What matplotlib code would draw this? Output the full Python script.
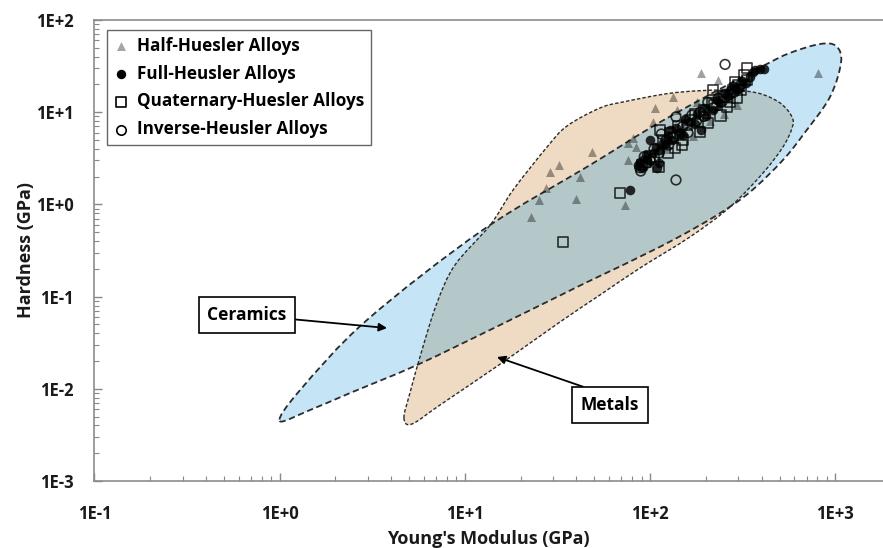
import numpy as np
import matplotlib.pyplot as plt
from matplotlib.path import Path
from matplotlib.patches import PathPatch
from matplotlib.ticker import LogLocator, FuncFormatter, NullFormatter

plt.rcParams['font.family'] = ['Open Sans', 'DejaVu Sans']
plt.rcParams['font.weight'] = 'bold'

# Young's modulus (GPa) and hardness (GPa) for each alloy family
half_E = [806, 189, 233, 133, 106, 104, 140, 179, 294, 48.6, 76, 81, 84, 76, 73.2,
          32.2, 28.8, 27.4, 41.8, 25.1, 39.8, 22.7, 170, 210, 250, 120, 95, 150, 200, 230, 275]
half_H = [26.6, 26.6, 22.3, 14.6, 11.1, 7.9, 10.6, 12.9, 12.0, 3.70, 4.6, 5.3, 4.2, 3.03, 0.985,
          2.67, 2.25, 1.51, 1.98, 1.12, 1.14, 0.73, 5.5, 8.0, 9.5, 4.0, 3.5, 7.0, 11.0, 16.0, 14.0]

full_E = [370, 390, 410, 360, 78, 100, 113, 88, 86, 91, 109, 112, 128, 138, 164, 189, 218,
          270, 300, 330, 150, 175, 240, 260, 200, 120, 95,
          96, 104, 118, 125, 145, 155, 180, 195, 230, 250, 285, 315, 345, 108, 132]
full_H = [28.5, 29.5, 29.5, 27, 1.43, 5.0, 3.9, 2.9, 2.65, 2.5, 2.5, 2.8, 6.4, 6.7, 7.8, 6.4, 10.6,
          17.4, 18.2, 20.7, 5.6, 7.5, 12.5, 15.0, 9.0, 4.5, 3.4,
          3.0, 3.6, 4.6, 5.5, 6.0, 8.5, 9.5, 11.0, 13.5, 16.0, 19.0, 22.0, 24.0, 4.2, 5.0]

quat_E = [34, 69, 334, 218, 287, 334, 111, 260, 205, 186, 150, 164, 136, 113, 223, 294, 310,
          95, 125, 175, 240, 270, 100, 90, 105, 118, 128, 142, 158, 195, 215, 250, 280, 300, 320, 148]
quat_H = [0.39, 1.33, 30, 17.4, 21, 22.3, 2.55, 11.4, 7.6, 6.1, 5.0, 8.2, 4.1, 6.4, 11.9, 14.2, 17.4,
          2.9, 3.6, 9.5, 9.2, 13.0, 3.3, 2.7, 3.1, 4.8, 5.9, 7.0, 7.2, 10.5, 12.5, 14.8, 17.5, 19.5, 25.0, 4.4]

inv_E = [254, 138, 88, 89, 93, 133, 150, 168, 186, 205, 233, 270, 138, 122, 105, 100, 300, 310, 160,
         96, 112, 126, 145, 178, 195, 220, 245, 285, 115]
inv_H = [33, 1.84, 2.5, 2.3, 3.3, 5.4, 7.0, 9.3, 10.0, 12.8, 14.2, 15.5, 8.9, 5.0, 4.0, 3.0, 18.0, 20.0, 6.0,
         2.8, 3.6, 4.4, 5.8, 8.0, 9.0, 11.2, 13.0, 16.5, 5.8]

# property envelopes (E, H) traced around each material class
ceramics_E = [1.00, 1.46, 2.40, 5.51, 15.5, 44.5, 71.4, 133, 230, 346, 522, 682, 936, 1075,
              1010, 827, 569, 407, 186, 100, 47.4, 12.5, 2.96, 1.29]
ceramics_H = [0.00448, 0.00589, 0.0090, 0.0181, 0.0492, 0.140, 0.220, 0.411, 0.767, 1.36, 3.03,
              5.95, 14.6, 35.0, 52.2, 54.9, 43.9, 31.7, 13.6, 6.74, 2.67, 0.528, 0.0557, 0.0097]

metals_E = [4.69, 5.05, 5.87, 7.07, 8.84, 13.7, 18.2, 27.8, 35.6, 53.6, 71.4, 133, 247, 378, 503,
            584, 584, 522, 407, 270, 164, 88.2, 53.6, 32.6, 16.1, 7.34, 5.18]
metals_H = [0.00482, 0.0090, 0.0264, 0.0853, 0.220, 0.598, 1.43, 4.20, 7.08, 11.1, 12.9, 16.2, 17.4,
            16.2, 12.6, 8.87, 6.74, 4.20, 2.19, 0.937, 0.443, 0.204, 0.104, 0.053, 0.0195, 0.00667, 0.00415]


def envelope(E, H):
    # closed Catmull-Rom curve through the points, built in log-log space
    p = np.column_stack([np.log10(E), np.log10(H)])
    n = len(p)
    verts = [p[0]]
    codes = [Path.MOVETO]
    for i in range(n):
        p0, p1, p2, p3 = p[i - 1], p[i], p[(i + 1) % n], p[(i + 2) % n]
        verts += [p1 + (p2 - p0) / 6, p2 - (p3 - p1) / 6, p2]
        codes += [Path.CURVE4] * 3
    verts.append(p[0])
    codes.append(Path.CLOSEPOLY)
    return Path(10 ** np.array(verts), codes)


fig = plt.figure(figsize=(8.83, 5.48), dpi=100)
ax = fig.add_axes([0.107, 0.1223, 0.893, 0.8412])
ax.set_xscale('log')
ax.set_yscale('log')
ax.set_xlim(0.1, 1810)
ax.set_ylim(1e-3, 1e2)

cer_path = envelope(ceramics_E, ceramics_H)
met_path = envelope(metals_E, metals_H)

cer_fill = PathPatch(cer_path, facecolor='#c5e4f6', edgecolor='none', zorder=1)
ax.add_patch(cer_fill)
ax.add_patch(PathPatch(met_path, facecolor='#efdbc3', edgecolor='none', zorder=1))
both = PathPatch(met_path, facecolor='#b5c8c9', edgecolor='none', zorder=1.1)
ax.add_patch(both)
both.set_clip_path(cer_fill)

ax.add_patch(PathPatch(cer_path, fill=False, edgecolor='#2b2b2b', lw=1.3,
                       linestyle=(0, (3.5, 2)), zorder=2))
ax.add_patch(PathPatch(met_path, fill=False, edgecolor='#2b2b2b', lw=1.0,
                       linestyle=(0, (2.5, 1.5)), zorder=2))

ax.scatter(half_E, half_H, marker='^', s=42, color='black', alpha=0.37, lw=0, zorder=3)
ax.scatter(full_E, full_H, marker='o', s=48, color='black', alpha=0.82, lw=0, zorder=3)
ax.scatter(quat_E, quat_H, marker='s', s=54, facecolor='none', edgecolor=(0, 0, 0, 0.78), lw=1.2, zorder=3)
ax.scatter(inv_E, inv_H, marker='o', s=48, facecolor='none', edgecolor=(0, 0, 0, 0.78), lw=1.2, zorder=3)

# legend proxies
h1 = ax.scatter([], [], marker='^', s=42, color='#a5a5a5', lw=0)
h2 = ax.scatter([], [], marker='o', s=46, color='black', lw=0)
h3 = ax.scatter([], [], marker='s', s=52, facecolor='white', edgecolor='black', lw=1.2)
h4 = ax.scatter([], [], marker='o', s=46, facecolor='white', edgecolor='black', lw=1.2)
leg = ax.legend([h1, h2, h3, h4],
                ['Half-Huesler Alloys', 'Full-Heusler Alloys', 'Quaternary-Huesler Alloys',
                 'Inverse-Heusler Alloys'],
                loc='upper left', bbox_to_anchor=(0.0159, 0.978), borderaxespad=0,
                fancybox=False, framealpha=1, edgecolor='#666666',
                prop={'family': ['Open Sans', 'DejaVu Sans'], 'weight': 'bold', 'size': 12.3},
                handlelength=0.8, handletextpad=0.55, labelspacing=0.57, borderpad=0.4)
leg.get_frame().set_linewidth(1.0)
leg.set_zorder(5)

box = dict(boxstyle='square,pad=0.5', facecolor='white', edgecolor='black', lw=1.2)
ax.annotate('Ceramics', xy=(3.8, 0.0456), xytext=(0.666, 0.0632), fontsize=12.5, fontweight='bold',
            ha='center', va='center', bbox=box, zorder=6,
            arrowprops=dict(arrowstyle='-|>', color='black', lw=1.3, mutation_scale=12,
                            shrinkA=0, shrinkB=0))
ax.annotate('Metals', xy=(14.9, 0.0221), xytext=(60.7, 0.00667), fontsize=12.5, fontweight='bold',
            ha='center', va='center', bbox=box, zorder=6,
            arrowprops=dict(arrowstyle='-|>', color='black', lw=1.3, mutation_scale=12,
                            shrinkA=0, shrinkB=0, relpos=(0.5, 1.0)))

fmt = FuncFormatter(lambda v, _: '1E{:+d}'.format(int(round(np.log10(v)))))
for axis in (ax.xaxis, ax.yaxis):
    axis.set_major_locator(LogLocator(base=10, numticks=12))
    axis.set_minor_locator(LogLocator(base=10, subs=np.arange(2, 10), numticks=12))
    axis.set_major_formatter(fmt)
    axis.set_minor_formatter(NullFormatter())

ax.tick_params(which='both', direction='in', color='#888888', labelsize=12, labelcolor='#1a1a1a')
ax.tick_params(which='major', length=6, width=1)
ax.tick_params(which='minor', length=3.5, width=0.8)
ax.tick_params(axis='x', pad=17)
ax.tick_params(axis='y', pad=15)
for lab in ax.get_xticklabels() + ax.get_yticklabels():
    lab.set_fontweight('bold')

for side in ('left', 'bottom', 'top'):
    ax.spines[side].set_color('#8c8c8c')
    ax.spines[side].set_linewidth(1.2)
ax.spines['right'].set_visible(False)

ax.set_xlabel("Young's Modulus (GPa)", fontsize=13, fontweight='bold', labelpad=5, color='#1a1a1a')
ax.set_ylabel('Hardness (GPa)', fontsize=13, fontweight='bold', labelpad=1, color='#1a1a1a')

fig.savefig('out.png', dpi=100)
